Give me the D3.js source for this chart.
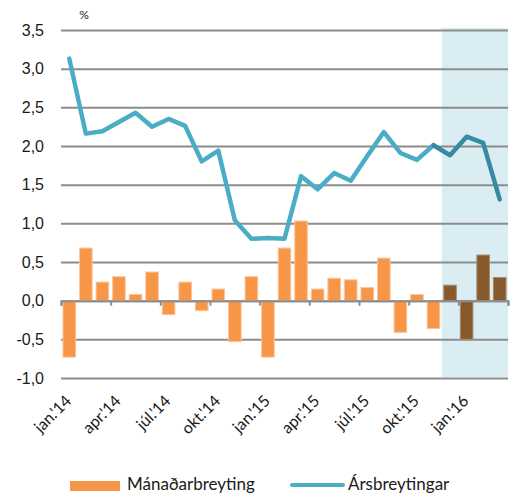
<!DOCTYPE html>
<html>
<head>
<meta charset="utf-8">
<script src="https://cdn.jsdelivr.net/npm/d3@7"></script>
<style>
  body { margin: 0; background: #fff; }
  svg { display: block; font-family: Lato, "Open Sans", sans-serif; }
</style>
</head>
<body>
<svg id="chart" width="516" height="494"></svg>
<script>
// months jan.'14 - mar.'16
const months = ['jan.', 'feb.', 'mar.', 'apr.', 'maí', 'jún.', 'júl.', 'ágú.', 'sep.', 'okt.', 'nóv.', 'des.'];
const categories = [];
['14', '15', '16'].forEach(yr => months.forEach(m => categories.push(m + "'" + yr)));
categories.splice(27);

// Mánaðarbreyting (bars)
const monthly = [-0.73, 0.68, 0.24, 0.31, 0.08, 0.37, -0.18, 0.24, -0.13, 0.15, -0.53, 0.31,
                 -0.73, 0.68, 1.03, 0.15, 0.29, 0.27, 0.17, 0.55, -0.41, 0.08, -0.36,
                 0.20, -0.50, 0.59, 0.30];
// Ársbreytingar (line)
const yearly = [3.13, 2.16, 2.19, 2.31, 2.43, 2.25, 2.35, 2.26, 1.80, 1.94, 1.04, 0.80,
                0.81, 0.80, 1.61, 1.44, 1.65, 1.55, 1.87, 2.18, 1.91, 1.82, 2.01,
                1.88, 2.12, 2.04, 1.31];
const yTicks = [-1, -0.5, 0, 0.5, 1, 1.5, 2, 2.5, 3, 3.5];
const shadeFrom = 23;   // des.'15 onwards highlighted
const lineDarkFrom = 22;

(function () {
const svg = d3.select('#chart');
const m = {left: 61, right: 508, top: 30, bottom: 378};

const x = d3.scaleBand()
  .domain(categories)
  .range([m.left, m.right])
  .paddingInner(0.24)
  .paddingOuter(0.12);
const xIdx = d3.scaleLinear().domain([0, categories.length]).range([m.left, m.right]);
const y = d3.scaleLinear().domain([-1, 3.5]).range([m.bottom, m.top]);
const fmt = d => d3.format('.1f')(d).replace('.', ',').replace('\u2212', '-');
const cx = c => x(c) + x.bandwidth() / 2;

// shaded period
svg.append('rect')
  .attr('x', xIdx(shadeFrom))
  .attr('y', m.top - 2)
  .attr('width', m.right - xIdx(shadeFrom))
  .attr('height', m.bottom - m.top + 1)
  .attr('fill', '#daedf3');

// grid
svg.append('g')
  .attr('transform', `translate(${m.left},0)`)
  .call(d3.axisLeft(y).tickValues(yTicks).tickSize(-(m.right - m.left)).tickFormat(fmt))
  .call(g => g.select('.domain').remove())
  .call(g => g.selectAll('line').attr('stroke', '#8c8c8c').attr('stroke-width', 2))
  .call(g => g.selectAll('text')
    .attr('x', -17)
    .attr('font-size', 16)
    .attr('fill', '#1a1a1a'));

svg.append('text')
  .attr('x', 84).attr('y', 19)
  .attr('text-anchor', 'middle')
  .attr('font-size', 12)
  .attr('fill', '#1a1a1a')
  .text('%');

// bars
svg.append('g').selectAll('rect')
  .data(monthly)
  .join('rect')
  .attr('x', (d, i) => x(categories[i]))
  .attr('width', x.bandwidth())
  .attr('y', d => y(Math.max(0, d)))
  .attr('height', d => Math.abs(y(d) - y(0)))
  .attr('fill', (d, i) => i >= shadeFrom ? '#875a2e' : '#f79646')
  .attr('stroke', (d, i) => i >= shadeFrom ? '#a98a6a' : '#fbc49a')
  .attr('stroke-width', 1);

// zero axis with quarterly ticks
svg.append('g')
  .attr('transform', `translate(0,${y(0)})`)
  .call(d3.axisBottom(xIdx).tickValues(d3.range(0, categories.length + 1, 3)).tickSize(5).tickFormat(''))
  .call(g => g.select('.domain').attr('stroke', '#8c8c8c').attr('stroke-width', 2))
  .call(g => g.selectAll('line').attr('stroke', '#8c8c8c').attr('stroke-width', 2));

// x labels
svg.append('g').selectAll('text')
  .data(categories.filter((c, i) => i % 3 === 0))
  .join('text')
  .attr('transform', c => `translate(${cx(c) + 3},${m.bottom + 24}) rotate(-45)`)
  .attr('text-anchor', 'end')
  .attr('font-size', 16)
  .attr('fill', '#1a1a1a')
  .text(c => c);

// line
const line = d3.line()
  .x(d => cx(d.c))
  .y(d => y(d.v));
const pts = yearly.map((v, i) => ({c: categories[i], v}));

svg.append('path')
  .datum(pts.slice(0, lineDarkFrom + 1))
  .attr('d', line)
  .attr('fill', 'none')
  .attr('stroke', '#4bacc6')
  .attr('stroke-width', 4.5)
  .attr('stroke-linejoin', 'round')
  .attr('stroke-linecap', 'round');

svg.append('path')
  .datum(pts.slice(lineDarkFrom))
  .attr('d', line)
  .attr('fill', 'none')
  .attr('stroke', '#368aa2')
  .attr('stroke-width', 4.5)
  .attr('stroke-linejoin', 'round')
  .attr('stroke-linecap', 'round');

// legend
const lg = svg.append('g');
lg.append('rect')
  .attr('x', 70).attr('y', 481).attr('width', 50).attr('height', 10)
  .attr('fill', '#f79646');
lg.append('text')
  .attr('x', 127).attr('y', 489.5)
  .attr('font-size', 17).attr('fill', '#1a1a1a')
  .text('Mánaðarbreyting');
lg.append('line')
  .attr('x1', 292).attr('x2', 343).attr('y1', 485).attr('y2', 485)
  .attr('stroke', '#4bacc6').attr('stroke-width', 4).attr('stroke-linecap', 'round');
lg.append('text')
  .attr('x', 348).attr('y', 489.5)
  .attr('font-size', 17).attr('fill', '#1a1a1a')
  .text('Ársbreytingar');
})();
</script>
</body>
</html>
